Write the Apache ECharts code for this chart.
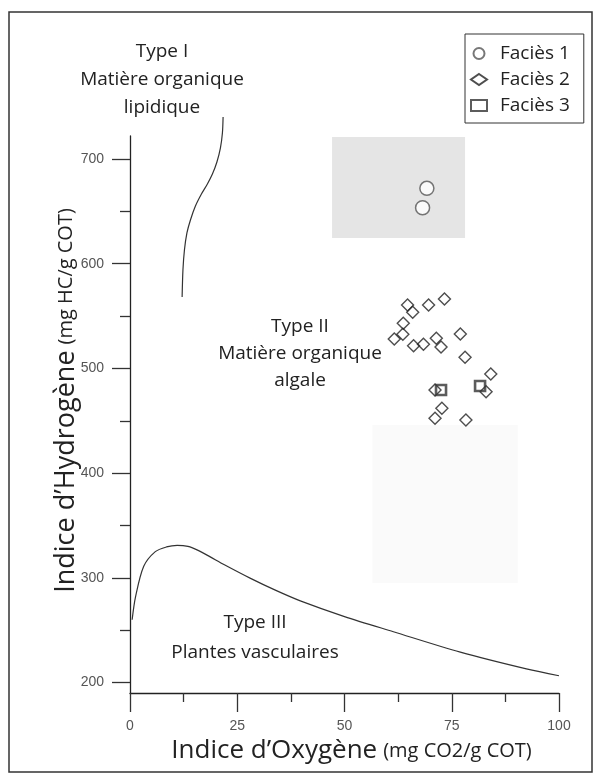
<!DOCTYPE html>
<html>
<head>
<meta charset="utf-8">
<script src="https://cdn.jsdelivr.net/npm/echarts@6/dist/echarts.min.js"></script>
<style>
  html, body { margin: 0; padding: 0; background: #fff; }
  #chart { width: 601px; height: 780px; }
</style>
</head>
<body>
<div id="chart"></div>
<script>
// ---- Data ----
const faciesNames = ['Faciès 1', 'Faciès 2', 'Faciès 3'];

const facies1X = [69.2, 68.2];
const facies1Y = [672, 653.5];

const facies2X = [64.7, 65.9, 69.6, 73.3, 63.7, 63.6, 61.6, 66.1, 68.4, 71.4, 72.5, 77.0, 78.1, 84.1, 83.0, 71.1, 72.7, 71.1, 78.3];
const facies2Y = [560.6, 553.6, 560.6, 566.3, 543.1, 532.6, 528.1, 521.7, 523.0, 528.8, 520.5, 532.9, 510.6, 494.7, 477.8, 479.4, 461.9, 452.4, 450.7];

const facies3X = [72.5, 81.6];
const facies3Y = [479.4, 483.2];

// Type I boundary curve
const typeIX = [12.15, 12.34, 12.69, 13.27, 14.09, 15.25, 16.65, 18.04, 19.21, 20.26, 21.07, 21.54, 21.7];
const typeIY = [568.2, 594.0, 613.1, 629.4, 641.8, 655.1, 666.6, 676.2, 685.7, 697.2, 710.5, 724.9, 740.2];

// Type III boundary curve
const typeIIIX = [0.5, 1.3, 3.2, 5.9, 8.5, 11.0, 13.5, 16, 18.7, 22, 28.1, 34, 39.7, 50, 61.4, 77, 92.4, 100];
const typeIIIY = [260, 282, 311, 325, 329.5, 331, 330, 326, 320, 312.5, 299.5, 288, 278, 263, 248.5, 229, 213, 206.5];

// Axis ticks
const xMajorTicks = [0, 25, 50, 75, 100];
const xMinorTicks = [12.5, 37.5, 62.5, 87.5];
const yMajorTicks = [200, 300, 400, 500, 600, 700];
const yMinorTicks = [250, 350, 450, 550, 650];
const xMin = 0, xMax = 100, yMin = 190, yMax = 722;

// Shaded background patches (from the scanned figure)
const shadeDark = [[47.1, 721], [78.1, 624.6]];
const shadeLight = [[56.5, 446], [90.4, 295]];

// Annotation texts
const typeIText = ['Type I', 'Matière organique', 'lipidique'];
const typeIIText = ['Type II', 'Matière organique', 'algale'];
const typeIIIText = ['Type III', 'Plantes vasculaires'];

const zip = (xs, ys) => xs.map((x, i) => [x, ys[i]]);

const FONT = '"Open Sans", "Noto Sans", sans-serif';
const NUMFONT = '"Liberation Sans", Arial, sans-serif';

function textLines(lines, cx, y0, dy) {
  return lines.map((t, i) => ({
    type: 'text',
    x: cx, y: y0 + i * dy,
    style: {
      text: t, fill: '#222', font: '19px ' + FONT,
      textAlign: 'center', textVerticalAlign: 'middle'
    }
  }));
}

const chart = echarts.init(document.getElementById('chart'), null, { renderer: 'canvas' });

const axisLineStyle = { color: '#222', width: 1.3 };
const tickStyle = { color: '#333', width: 1.3 };

chart.setOption({
  animation: false,
  backgroundColor: '#fff',
  grid: { left: 130, top: 136, width: 429, height: 557, containLabel: false },
  xAxis: [
    {
      type: 'value', min: xMin, max: xMax, position: 'bottom',
      splitLine: { show: false },
      axisLine: { show: true, lineStyle: axisLineStyle },
      axisTick: { show: true, length: 19, lineStyle: tickStyle, customValues: xMajorTicks },
      axisLabel: { show: true, customValues: xMajorTicks, margin: 26, color: '#555', fontSize: 14, fontFamily: NUMFONT },
      name: '{a|Indice d\u2019Oxygène}{s| }{b|(mg CO2/g COT)}',
      nameLocation: 'middle', nameGap: 45, nameMoveOverlap: false,
      nameTextStyle: {
        padding: [0, 0, 0, 14],
        rich: {
          a: { fontSize: 26, fontFamily: FONT, color: '#222' },
          s: { fontSize: 12, fontFamily: FONT, width: 6 },
          b: { fontSize: 20, fontFamily: FONT, color: '#222' }
        }
      }
    },
    {
      type: 'value', min: xMin, max: xMax, position: 'bottom',
      splitLine: { show: false },
      axisLine: { show: false },
      axisTick: { show: true, length: 9, lineStyle: tickStyle, customValues: xMinorTicks },
      axisLabel: { show: false }
    }
  ],
  yAxis: [
    {
      type: 'value', min: yMin, max: yMax, position: 'left',
      splitLine: { show: false },
      axisLine: { show: true, lineStyle: axisLineStyle },
      axisTick: { show: true, length: 18, lineStyle: tickStyle, customValues: yMajorTicks },
      axisLabel: { show: true, customValues: yMajorTicks, margin: 26, color: '#555', fontSize: 14, fontFamily: NUMFONT },
      name: '{a|Indice d\u2019Hydrogène}{s| }{b|(mg HC/g COT)}',
      nameLocation: 'middle', nameGap: 50, nameMoveOverlap: false,
      nameTextStyle: {
        padding: [0, 0, 0, 28],
        rich: {
          a: { fontSize: 27, fontFamily: FONT, color: '#222' },
          s: { fontSize: 12, fontFamily: FONT, width: 6 },
          b: { fontSize: 20, fontFamily: FONT, color: '#222' }
        }
      }
    },
    {
      type: 'value', min: yMin, max: yMax, position: 'left',
      splitLine: { show: false },
      axisLine: { show: false },
      axisTick: { show: true, length: 10, lineStyle: tickStyle, customValues: yMinorTicks },
      axisLabel: { show: false }
    }
  ],
  legend: {
    data: faciesNames,
    orient: 'vertical',
    left: 465, top: 34,
    padding: [10, 14, 8, 5],
    itemGap: 7,
    itemWidth: 16, itemHeight: 11,
    borderColor: '#333', borderWidth: 1, borderRadius: 0,
    backgroundColor: '#fff',
    textStyle: { fontSize: 19, fontFamily: FONT, color: '#222', padding: [0, 0, 0, 8] }
  },
  graphic: [
    {
      type: 'rect', shape: { x: 9, y: 12, width: 583, height: 760 },
      style: { fill: 'none', stroke: '#333', lineWidth: 1.5 }, z: 100
    },
    ...textLines(typeIText, 162, 52, 28),
    ...textLines(typeIIText, 300, 327, 27),
    ...textLines(typeIIIText, 255, 623, 30)
  ],
  series: [
    {
      name: 'shade', type: 'scatter', data: [], silent: true,
      markArea: {
        silent: true,
        data: [
          [{ coord: shadeDark[0], itemStyle: { color: '#e5e5e5' } }, { coord: shadeDark[1] }],
          [{ coord: shadeLight[0], itemStyle: { color: '#fafafa' } }, { coord: shadeLight[1] }]
        ]
      }
    },
    {
      name: 'Type I', type: 'line', data: zip(typeIX, typeIY),
      smooth: 0.3, showSymbol: false, clip: false, silent: true,
      lineStyle: { color: '#333', width: 1.2 }
    },
    {
      name: 'Type III', type: 'line', data: zip(typeIIIX, typeIIIY),
      smooth: 0.3, showSymbol: false, clip: false, silent: true,
      lineStyle: { color: '#333', width: 1.2 }
    },
    {
      name: faciesNames[0], type: 'scatter', data: zip(facies1X, facies1Y),
      symbol: 'circle', symbolSize: 14,
      itemStyle: { color: '#fff', borderColor: '#555', borderWidth: 1.5 }
    },
    {
      name: faciesNames[1], type: 'scatter', data: zip(facies2X, facies2Y),
      symbol: 'diamond', symbolSize: 12,
      itemStyle: { color: 'rgba(255,255,255,0)', borderColor: '#222', borderWidth: 1.4 }
    },
    {
      name: faciesNames[2], type: 'scatter', data: zip(facies3X, facies3Y),
      symbol: 'rect', symbolSize: 10,
      itemStyle: { color: 'rgba(255,255,255,0)', borderColor: '#333', borderWidth: 2.6 }
    }
  ]
});
</script>
</body>
</html>
